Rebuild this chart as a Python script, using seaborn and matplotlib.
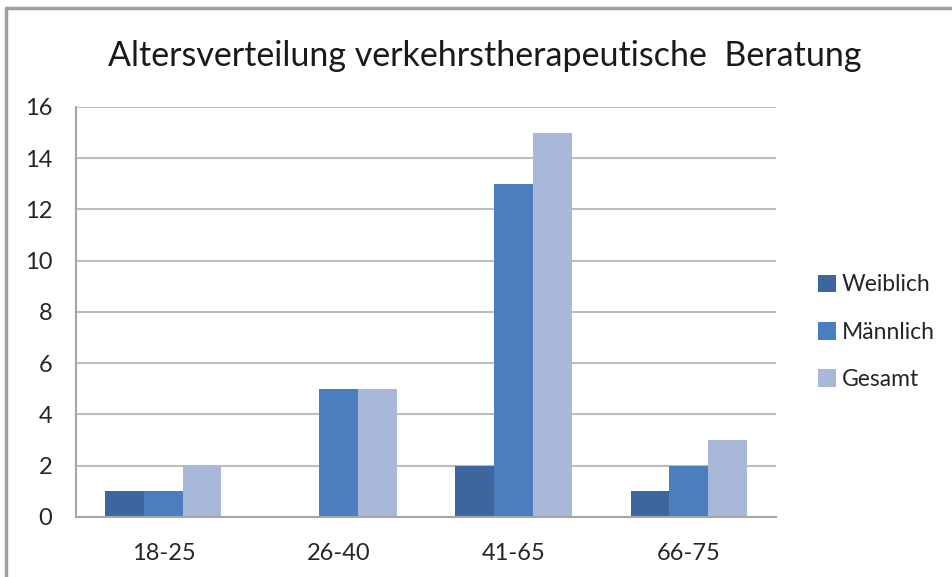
import numpy as np
import pandas as pd
import seaborn as sns
import matplotlib.pyplot as plt
from matplotlib.lines import Line2D

# Altersgruppen und Werte
altersgruppen = ['18-25', '26-40', '41-65', '66-75']
weiblich = [1, 0, 2, 1]
maennlich = [1, 5, 13, 2]
gesamt = [2, 5, 15, 3]
serien = ['Weiblich', 'Männlich', 'Gesamt']
farben = ['#3D659E', '#4B7EBF', '#A8B8D9']

df = pd.DataFrame({
    'Alter': altersgruppen * 3,
    'Anzahl': weiblich + maennlich + gesamt,
    'Serie': np.repeat(serien, len(altersgruppen)),
})

sns.set_style('white')
plt.rcParams['font.family'] = ['Lato', 'DejaVu Sans']

fig = plt.figure(figsize=(9.53, 5.77), dpi=100)
ax = fig.add_axes([0.0797, 0.104, 0.7346, 0.7106])

sns.barplot(data=df, x='Alter', y='Anzahl', hue='Serie', palette=farben,
            width=0.663, saturation=1, errorbar=None, ax=ax, legend=True,
            linewidth=0)

ax.set_ylim(0, 16)
ax.set_yticks(range(0, 17, 2))
ax.set_xlim(-0.5, 3.5)
ax.yaxis.grid(True, color='#BDBDBD', linewidth=1.5)
ax.set_axisbelow(True)
ax.set_xlabel('')
ax.set_ylabel('')
for s in ['top', 'right']:
    ax.spines[s].set_visible(False)
for s in ['left', 'bottom']:
    ax.spines[s].set_color('#A6A6A6')
    ax.spines[s].set_linewidth(1.5)
ax.tick_params(axis='both', length=0, labelsize=17, colors='#262626')
ax.tick_params(axis='y', pad=17)
ax.tick_params(axis='x', pad=19)

handles, labels = ax.get_legend_handles_labels()
ax.legend(handles, labels, loc='center left', bbox_to_anchor=(0.858, 0.424),
          bbox_transform=fig.transFigure, frameon=False, fontsize=16.5,
          borderaxespad=0, borderpad=0,
          handlelength=0.8, handleheight=0.8, handletextpad=0.25,
          labelspacing=1.15, labelcolor='#262626')

fig.text(0.509, 0.903, 'Altersverteilung verkehrstherapeutische  Beratung',
         ha='center', va='center', fontsize=24.5, color='#1A1A1A')

# Rahmen des Diagrammbereichs (oben und links)
fig.add_artist(Line2D([0.0063, 1.0], [0.986, 0.986], color='#A0A0A0', linewidth=2.5))
fig.add_artist(Line2D([0.0063, 0.0063], [0.0, 0.986], color='#A0A0A0', linewidth=2.5))

fig.savefig('out.png', dpi=100)
